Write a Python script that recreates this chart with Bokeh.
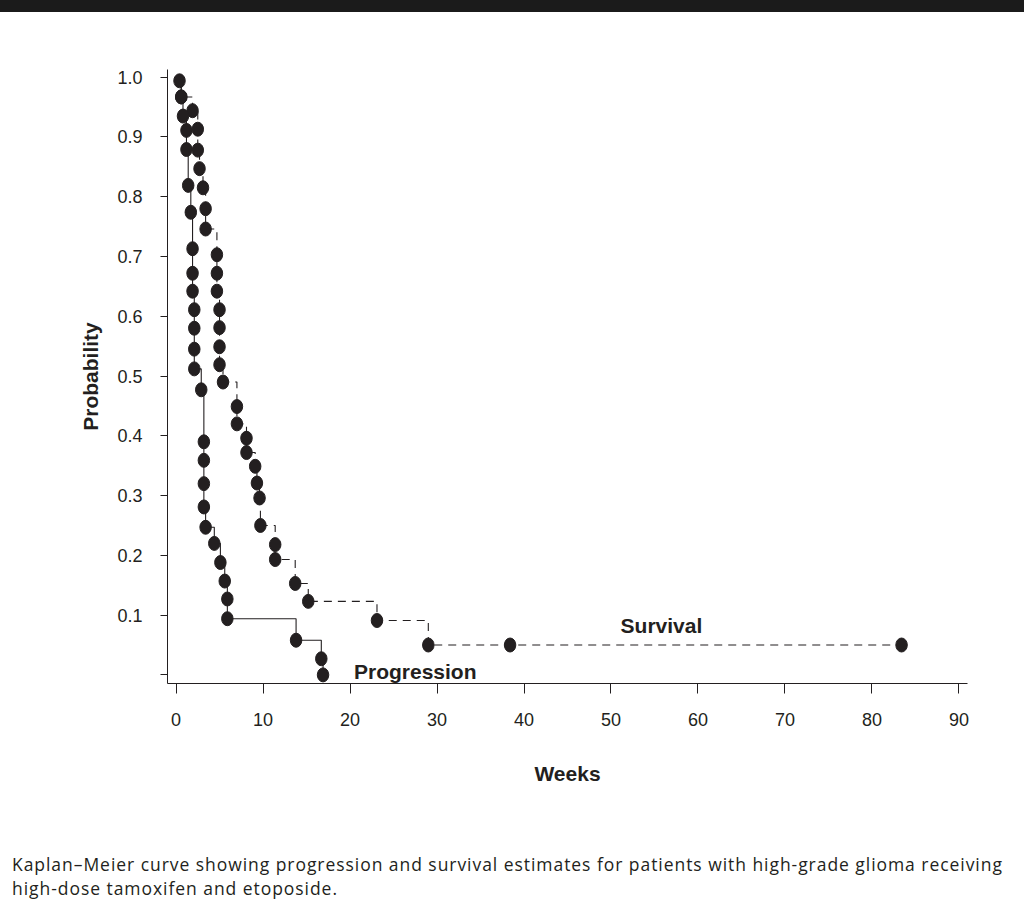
from bokeh.plotting import figure
from bokeh.models import Range1d, FixedTicker, Label, Div, ColumnDataSource, PrintfTickFormatter
from bokeh.layouts import column
from bokeh.embed import file_html
from bokeh.resources import INLINE

# ---- data ----
prog_weeks = [0.4, 0.6, 0.8, 1.2, 1.2, 1.4, 1.7, 1.9, 1.9, 1.9, 2.1, 2.1, 2.1, 2.1,
              2.9, 3.2, 3.2, 3.2, 3.2, 3.4, 4.4, 5.1, 5.6, 5.9, 5.9, 13.8, 16.7, 16.9]
prog_prob = [0.994, 0.967, 0.935, 0.911, 0.879, 0.819, 0.774, 0.713, 0.672, 0.642,
             0.611, 0.580, 0.545, 0.512, 0.477, 0.390, 0.359, 0.320, 0.281, 0.247,
             0.220, 0.188, 0.157, 0.127, 0.094, 0.058, 0.027, 0.0]

surv_weeks = [0.6, 1.9, 2.5, 2.5, 2.7, 3.1, 3.4, 3.4, 4.7, 4.7, 4.7, 5.0, 5.0, 5.0,
              5.0, 5.4, 7.0, 7.0, 8.1, 8.1, 9.1, 9.3, 9.6, 9.7, 11.4, 11.4, 13.7,
              15.2, 23.1, 29.0, 38.4, 83.4]
surv_prob = [0.967, 0.944, 0.913, 0.878, 0.847, 0.815, 0.780, 0.746, 0.703, 0.672,
             0.642, 0.611, 0.581, 0.549, 0.519, 0.490, 0.449, 0.420, 0.396, 0.372,
             0.349, 0.321, 0.296, 0.250, 0.218, 0.193, 0.153, 0.123, 0.091, 0.050,
             0.050, 0.050]

x_ticks = [0, 10, 20, 30, 40, 50, 60, 70, 80, 90]
y_ticks = [0.0, 0.1, 0.2, 0.3, 0.4, 0.5, 0.6, 0.7, 0.8, 0.9, 1.0]

start_week = 0.0
start_prob = 1.0

caption_lines = [
    "Kaplan\u2013Meier curve showing progression and survival estimates for patients with high-grade glioma receiving",
    "high-dose tamoxifen and etoposide.",
]

INK = "#231f20"
FONT = "Liberation Sans"

p = figure(width=1024, height=840, output_backend="svg", toolbar_location=None,
           x_range=Range1d(-0.98, 90.98), y_range=Range1d(-0.0144, 1.0129),
           min_border_left=167, min_border_right=57, min_border_top=57,
           min_border_bottom=169)
p.outline_line_color = None
p.grid.visible = False
p.background_fill_color = "white"
p.border_fill_color = "white"

for ax in (p.xaxis[0], p.yaxis[0]):
    ax.axis_line_color = INK
    ax.major_tick_line_color = INK
    ax.minor_tick_line_color = None
    ax.major_tick_in = 0
    ax.major_label_text_font = FONT
    ax.major_label_text_font_size = "18px"
    ax.major_label_text_color = INK
    ax.axis_label_text_font = FONT
    ax.axis_label_text_font_size = "21px"
    ax.axis_label_text_font_style = "bold"
    ax.axis_label_text_color = INK

p.xaxis.ticker = FixedTicker(ticks=x_ticks)
p.xaxis.major_tick_out = 10
p.xaxis.major_label_standoff = 19
p.xaxis.axis_label = "Weeks"
p.xaxis.axis_label_standoff = 33

p.yaxis.ticker = FixedTicker(ticks=y_ticks)
p.yaxis.formatter = PrintfTickFormatter(format="%.1f")
p.yaxis.major_label_overrides = {0: ""}
p.yaxis.major_tick_out = 7
p.yaxis.major_label_standoff = 18
p.yaxis.axis_label = "Probability"
p.yaxis.axis_label_standoff = 12

prog_src = ColumnDataSource(dict(x=prog_weeks, y=prog_prob))
surv_src = ColumnDataSource(dict(x=surv_weeks, y=surv_prob))

p.step(x=[start_week] + prog_weeks, y=[start_prob] + prog_prob, mode="after",
       line_color=INK, line_width=1.1)
p.step(x=[start_week] + surv_weeks, y=[start_prob] + surv_prob, mode="after",
       line_color=INK, line_width=1.1, line_dash="8 6")

# dot size: about 11.5 x 14 px on screen, expressed in axis units
DOT_W = 1.32
DOT_H = 0.0234
for src in (surv_src, prog_src):
    p.ellipse(x="x", y="y", width=DOT_W, height=DOT_H, source=src,
              fill_color=INK, line_color=INK)

p.add_layout(Label(x=55.8, y=0.083, text="Survival", text_font=FONT,
                   text_font_size="21px", text_font_style="bold", text_color=INK,
                   text_align="center", text_baseline="middle"))
p.add_layout(Label(x=27.5, y=0.006, text="Progression", text_font=FONT,
                   text_font_size="21px", text_font_style="bold", text_color=INK,
                   text_align="center", text_baseline="middle"))

bar = Div(text="", width=1024, height=12, margin=(0, 0, 0, 0),
          styles={"background-color": "#1b1b1b"})

caption_html = ('<div style="font-family: \'Open Sans\', sans-serif; font-size: 17.5px; '
                'line-height: 24px; letter-spacing: 0.95px; color: #231f20; '
                'padding-left: 12px; margin: 0; white-space: nowrap;">'
                + "<br>".join(caption_lines) + "</div>")
caption = Div(text=caption_html, width=1024, height=48, margin=(0, 0, 0, 0))

layout = column(bar, p, caption)
open("out.html", "w").write(file_html(layout, INLINE))
